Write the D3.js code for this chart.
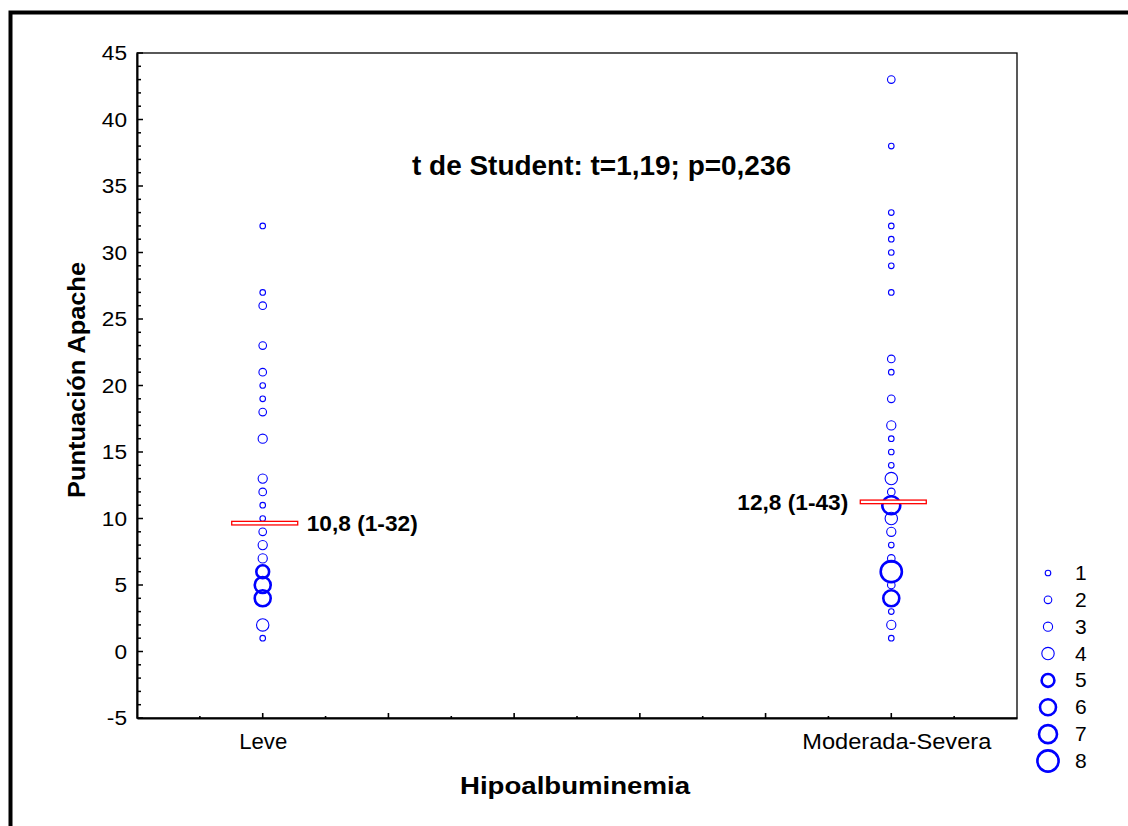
<!DOCTYPE html>
<html>
<head>
<meta charset="utf-8">
<script src="https://cdn.jsdelivr.net/npm/d3@7"></script>
<style>
  html, body { margin: 0; padding: 0; background: #fff; }
  svg { display: block; font-family: "Liberation Sans", Arial, sans-serif; }
</style>
</head>
<body>
<svg id="chart" width="1128" height="826"></svg>
<script>
// ---- data ----
const categories = ["Leve", "Moderada-Severa"];
const categoryPos = [1, 6];

const leveValues = [32, 27, 26, 23, 21, 20, 19, 18, 16, 13, 12, 11, 10, 9, 8, 7, 6, 5, 4, 2, 1];
const leveCounts = [1, 1, 2, 2, 2, 1, 1, 2, 3, 3, 2, 1, 1, 2, 3, 3, 5, 6, 6, 4, 1];

const modValues = [43, 38, 33, 32, 31, 30, 29, 27, 22, 21, 19, 17, 16, 15, 14, 13, 12, 11, 10, 9, 8, 7, 6, 5, 4, 3, 2, 1];
const modCounts = [2, 1, 1, 1, 1, 1, 1, 1, 2, 1, 2, 3, 1, 1, 1, 4, 2, 7, 4, 3, 1, 2, 8, 2, 6, 1, 3, 1];

const meanLineValues = [9.65, 11.25];
const meanLabels = ["10,8 (1-32)", "12,8 (1-43)"];

const yTicks = [-5, 0, 5, 10, 15, 20, 25, 30, 35, 40, 45];
const legendCounts = [1, 2, 3, 4, 5, 6, 7, 8];

const titleText = "t de Student: t=1,19; p=0,236";
const xTitle = "Hipoalbuminemia";
const yTitle = "Puntuación Apache";

// ---- layout ----
const svg = d3.select("#chart");
const plot = { left: 137, right: 1017, top: 53, bottom: 718 };

const x = d3.scaleLinear().domain([0, 7]).range([plot.left, plot.right]);
const y = d3.scaleLinear().domain([-5, 45]).range([plot.bottom, plot.top]);

const rScale = d3.scaleOrdinal().domain(legendCounts).range([2.8, 3.8, 4.6, 6.2, 6.4, 8.0, 9.0, 10.6]);
const wScale = c => (c >= 5 ? 2.6 : 1.1);

// outer frame
svg.append("rect")
  .attr("x", 10.5).attr("y", 12.5)
  .attr("width", 1200).attr("height", 900)
  .attr("fill", "none").attr("stroke", "#000").attr("stroke-width", 4);

// plot box
svg.append("rect")
  .attr("x", plot.left).attr("y", plot.top)
  .attr("width", plot.right - plot.left).attr("height", plot.bottom - plot.top)
  .attr("fill", "none").attr("stroke", "#000").attr("stroke-width", 1.3);

// y axis (ticks inside)
const yAxisG = svg.append("g").attr("transform", `translate(${plot.left},0)`);
yAxisG.call(d3.axisLeft(y).tickValues(yTicks).tickFormat(d => String(d)).tickSize(0).tickPadding(10))
  .call(g => g.select(".domain").attr("stroke-width", 2))
  .call(g => g.selectAll("text").attr("font-size", 21).attr("fill", "#000")
    .attr("font-family", "Liberation Sans, Arial, sans-serif")
    .attr("transform", "scale(1.08,1)").attr("x", -10 / 1.08));
yAxisG.selectAll(".tick line").remove();
yAxisG.selectAll(".ymaj").data(yTicks).join("line")
  .attr("x1", 0).attr("x2", 6).attr("y1", d => y(d)).attr("y2", d => y(d))
  .attr("stroke", "#000").attr("stroke-width", 1.5);
const yMinor = d3.range(-5, 46, 1).filter(v => v % 5 !== 0);
yAxisG.selectAll(".ymin").data(yMinor).join("line")
  .attr("x1", 0).attr("x2", 4).attr("y1", d => y(d)).attr("y2", d => y(d))
  .attr("stroke", "#000").attr("stroke-width", 1.5);

// x axis (ticks inside)
const xLabelLen = [48, 189];
const xAxisG = svg.append("g").attr("transform", `translate(0,${plot.bottom})`);
xAxisG.call(d3.axisBottom(x).tickValues(categoryPos).tickFormat((d, i) => categories[i]).tickSize(0).tickPadding(15))
  .call(g => g.select(".domain").attr("stroke-width", 2))
  .call(g => g.selectAll("text").attr("font-size", 22).attr("fill", "#000")
    .attr("font-family", "Liberation Sans, Arial, sans-serif"));
xAxisG.selectAll(".tick text")
  .attr("dx", (d, i) => i === 1 ? 5 : 0)
  .attr("textLength", (d, i) => xLabelLen[i])
  .attr("lengthAdjust", "spacingAndGlyphs");
const xMajor = d3.range(1, 7, 1);
xAxisG.selectAll(".xmaj").data(xMajor).join("line")
  .attr("x1", d => x(d)).attr("x2", d => x(d)).attr("y1", 0).attr("y2", -5)
  .attr("stroke", "#000").attr("stroke-width", 1.6);
const xMinor = d3.range(0.5, 7, 1);
xAxisG.selectAll(".xmin").data(xMinor).join("line")
  .attr("x1", d => x(d)).attr("x2", d => x(d)).attr("y1", 0).attr("y2", -2)
  .attr("stroke", "#000").attr("stroke-width", 1.6);

// points
const series = [
  { pos: categoryPos[0], values: leveValues, counts: leveCounts },
  { pos: categoryPos[1], values: modValues, counts: modCounts }
];
series.forEach(s => {
  const pts = s.values.map((v, i) => ({ v, c: s.counts[i] }));
  svg.append("g").selectAll("circle").data(pts).join("circle")
    .attr("cx", x(s.pos))
    .attr("cy", d => y(d.v))
    .attr("r", d => rScale(d.c))
    .attr("fill", "none")
    .attr("stroke", "#0000ff")
    .attr("stroke-width", d => wScale(d.c));
});

// mean lines
const meanW = 66;
categoryPos.forEach((p, i) => {
  svg.append("rect")
    .attr("x", x(p) + 2 - meanW / 2)
    .attr("y", y(meanLineValues[i]) - 1.8)
    .attr("width", meanW).attr("height", 3.6)
    .attr("fill", "#fff").attr("stroke", "#ff0000").attr("stroke-width", 1.3);
});

// mean labels
svg.append("text")
  .attr("x", x(categoryPos[0]) + 44).attr("y", y(meanLineValues[0]) + 8)
  .attr("font-size", 22).attr("font-weight", "bold").attr("fill", "#000")
  .attr("textLength", 111).attr("lengthAdjust", "spacingAndGlyphs")
  .text(meanLabels[0]);
svg.append("text")
  .attr("x", x(categoryPos[1]) - 154).attr("y", y(meanLineValues[1]) + 8)
  .attr("font-size", 22).attr("font-weight", "bold").attr("fill", "#000")
  .attr("textLength", 111).attr("lengthAdjust", "spacingAndGlyphs")
  .text(meanLabels[1]);

// title
svg.append("text")
  .attr("x", 412).attr("y", 175)
  .attr("font-size", 27).attr("font-weight", "bold").attr("fill", "#000")
  .attr("textLength", 379).attr("lengthAdjust", "spacingAndGlyphs")
  .text(titleText);

// axis titles
svg.append("text")
  .attr("x", 460).attr("y", 794)
  .attr("font-size", 23).attr("font-weight", "bold").attr("fill", "#000")
  .attr("textLength", 230).attr("lengthAdjust", "spacingAndGlyphs")
  .text(xTitle);
svg.append("text")
  .attr("transform", "translate(85,498) rotate(-90)")
  .attr("font-size", 24).attr("font-weight", "bold").attr("fill", "#000")
  .attr("textLength", 236).attr("lengthAdjust", "spacingAndGlyphs")
  .text(yTitle);

// legend
const lg = svg.append("g");
const legY = d3.scaleLinear().domain([1, 8]).range([573, 761]);
lg.selectAll("circle").data(legendCounts).join("circle")
  .attr("cx", 1048).attr("cy", d => legY(d))
  .attr("r", d => rScale(d))
  .attr("fill", "none").attr("stroke", "#0000ff")
  .attr("stroke-width", d => wScale(d));
lg.selectAll("text").data(legendCounts).join("text")
  .attr("x", 1075).attr("y", d => legY(d) + 7)
  .attr("font-size", 21).attr("fill", "#000")
  .text(d => d);
</script>
</body>
</html>
